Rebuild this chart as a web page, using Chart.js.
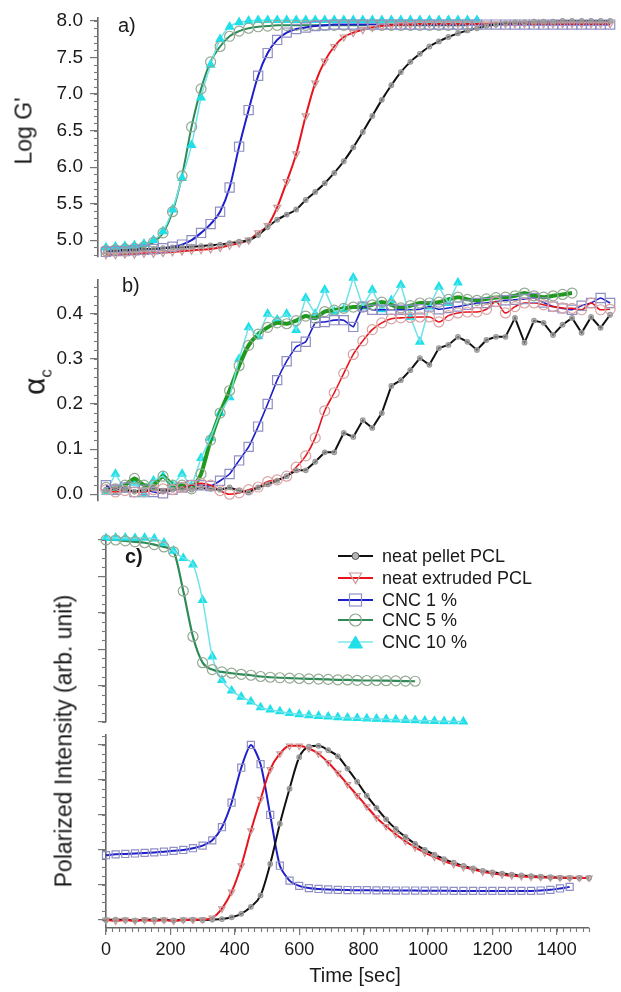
<!DOCTYPE html>
<html><head><meta charset="utf-8">
<script src="https://cdn.jsdelivr.net/npm/chart.js@4.4.1/dist/chart.umd.min.js"></script>
<style>
html,body{margin:0;padding:0;background:#fff;}
#wrap{position:relative;width:621px;height:992px;overflow:hidden;font-family:Arial,"Liberation Sans",sans-serif;color:#1a1a1a;}
canvas{position:absolute;left:0;top:0;}
.t{position:absolute;white-space:nowrap;line-height:1;}
.rot{transform:translate(-50%,-50%) rotate(-90deg);}
.lg{position:absolute;left:336px;}
.lt{position:absolute;left:382px;font-size:18px;line-height:1;white-space:nowrap;}
</style></head><body>
<div id="wrap">
<canvas id="cA" width="621" height="992"></canvas>
<canvas id="cB" width="621" height="992"></canvas>
<canvas id="cC1" width="621" height="992"></canvas>
<canvas id="cC2" width="621" height="992"></canvas>

<div class="t rot" style="left:24px;top:131px;font-size:23px;">Log G'</div>
<div class="t rot" style="left:37px;top:382px;font-size:30px;">α<sub style="font-size:17px;">c</sub></div>
<div class="t rot" style="left:64px;top:741px;font-size:23px;">Polarized Intensity (arb. unit)</div>
<div class="t" style="left:355px;top:975px;font-size:20px;transform:translate(-50%,-50%);">Time [sec]</div>
<div class="t" style="left:118px;top:15px;font-size:20px;">a)</div>
<div class="t" style="left:122px;top:275px;font-size:20px;">b)</div>
<div class="t" style="left:125px;top:546px;font-size:20px;font-weight:bold;">c)</div>

<svg class="lg" style="top:546px" width="44" height="20"><line x1="2" y1="10" x2="37" y2="10" stroke="#111" stroke-width="2"/><circle cx="19.5" cy="10" r="3.5" fill="#b5b5b5" stroke="#555" stroke-width="1"/></svg>
<div class="lt" style="top:547px">neat pellet PCL</div>
<svg class="lg" style="top:568px" width="44" height="20"><line x1="2" y1="10" x2="37" y2="10" stroke="#e8141c" stroke-width="2"/><polygon points="13.5,5 25.5,5 19.5,15.5" fill="none" stroke="#c79a9a" stroke-width="1.2"/></svg>
<div class="lt" style="top:569px">neat extruded PCL</div>
<svg class="lg" style="top:590px" width="44" height="20"><line x1="2" y1="10" x2="37" y2="10" stroke="#1e1ecc" stroke-width="2"/><rect x="13.5" y="4" width="12" height="12" fill="none" stroke="#8f8fc4" stroke-width="1.2"/></svg>
<div class="lt" style="top:591px">CNC 1 %</div>
<svg class="lg" style="top:610px" width="44" height="20"><line x1="2" y1="10" x2="37" y2="10" stroke="#2e8b57" stroke-width="2"/><circle cx="19.5" cy="10" r="6" fill="none" stroke="#93a893" stroke-width="1.2"/></svg>
<div class="lt" style="top:611px">CNC 5 %</div>
<svg class="lg" style="top:632px" width="44" height="20"><line x1="2" y1="10" x2="37" y2="10" stroke="#9beef0" stroke-width="2"/><polygon points="12.5,16 26.5,16 19.5,4" fill="#1fe0e8" stroke="#1fe0e8" stroke-width="1"/></svg>
<div class="lt" style="top:633px">CNC 10 %</div>
</div>

<script>
// ---------- DATA ----------
// time grid (s) for panels a) and b)
const timeAB = [0,30,60,90,120,150,180,210,240,270,300,330,360,390,420,450,480,510,540,570,600,630,660,690,720,750,780,810,840,870,900,930,960,990,1020,1050,1080,1110,1140,1170,1200,1230,1260,1290,1320,1350,1380,1410,1440,1470,1500,1530,1560,1590];
// time grid (s) for panel c)
const timeC = [0,30,60,90,120,150,180,210,240,270,300,330,360,390,420,450,480,510,540,570,600,630,660,690,720,750,780,810,840,870,900,930,960,990,1020,1050,1080,1110,1140,1170,1200,1230,1260,1290,1320,1350,1380,1410,1440,1470,1500];

// a) Log G'
const logG_pellet = [4.85,4.86,4.87,4.87,4.88,4.88,4.89,4.90,4.90,4.91,4.92,4.93,4.94,4.96,4.98,5.00,5.07,5.18,5.28,5.35,5.42,5.55,5.66,5.78,5.92,6.08,6.27,6.48,6.70,6.92,7.12,7.30,7.44,7.55,7.65,7.72,7.78,7.83,7.87,7.90,7.93,7.95,7.97,7.98,7.98,7.99,7.99,7.99,8.00,8.00,8.00,8.00,8.00,8.00];
const logG_extruded = [4.80,4.80,4.81,4.81,4.82,4.82,4.83,4.84,4.85,4.86,4.87,4.88,4.90,4.93,4.96,5.00,5.10,5.20,5.45,5.80,6.18,6.70,7.15,7.45,7.65,7.78,7.84,7.88,7.91,7.93,7.94,7.95,7.95,7.96,7.96,7.96,7.96,7.96,7.96,7.96,7.96,7.96,7.96,7.96,7.96,7.96,7.96,7.96,7.96,7.96,7.96,7.96,7.96,7.96];
const logG_cnc1 = [4.84,4.85,4.85,4.86,4.87,4.88,4.89,4.91,4.94,5.00,5.10,5.22,5.39,5.72,6.28,6.78,7.25,7.56,7.74,7.84,7.89,7.91,7.93,7.94,7.95,7.95,7.95,7.95,7.95,7.95,7.95,7.95,7.95,7.95,7.95,7.95,7.95,7.95,7.95,7.95,7.95,7.95,7.95,7.95,7.95,7.95,7.95,7.95,7.95,7.95,7.95,7.95,7.95,7.95];
const logG_cnc5 = [4.86,4.87,4.88,4.89,4.91,4.97,5.10,5.39,5.88,6.55,7.07,7.44,7.65,7.79,7.86,7.90,7.92,7.93,7.94,7.94,7.94,7.94,7.94,7.94,7.94,7.94,7.94,7.94,7.94,7.94,7.94,7.94,7.94,7.94,7.94,7.94,7.94,7.94,7.94,null,null,null,null,null,null,null,null,null,null,null,null,null,null,null];
const logG_cnc10 = [4.90,4.91,4.92,4.93,4.95,5.00,5.12,5.42,5.85,6.30,6.95,7.40,7.75,7.92,7.98,8.00,8.01,8.01,8.01,8.01,8.01,8.01,8.01,8.01,8.01,8.01,8.01,8.01,8.01,8.01,8.01,8.01,8.01,8.01,8.01,8.01,8.01,8.01,8.01,8.01,null,null,null,null,null,null,null,null,null,null,null,null,null,null];

// b) alpha_c
const alpha_pellet = [0.010,0.015,0.010,0.006,0.010,0.012,0.008,0.010,0.012,0.010,0.015,0.012,0.010,0.015,0.008,0.004,0.015,0.022,0.030,0.040,0.053,0.053,0.072,0.093,0.093,0.136,0.127,0.164,0.147,0.180,0.240,0.253,0.275,0.302,0.287,0.324,0.331,0.349,0.338,0.320,0.342,0.349,0.349,0.391,0.336,0.385,0.380,0.353,0.376,0.391,0.358,0.393,0.369,0.398];
const alpha_extruded = [0.010,0.005,0.008,0.005,0.005,0.010,0.012,0.010,0.015,0.020,0.024,0.020,0.008,0.000,0.003,0.010,0.016,0.028,0.032,0.040,0.060,0.085,0.125,0.185,0.225,0.268,0.310,0.340,0.365,0.380,0.389,0.391,0.392,0.393,0.393,0.382,0.396,0.402,0.404,0.404,0.410,0.427,0.402,0.416,0.424,0.424,0.420,0.416,0.413,0.412,0.409,0.424,0.409,0.410];
const alpha_cnc1 = [0.020,0.010,0.015,0.005,0.010,0.005,0.002,0.010,0.015,0.020,0.020,0.018,0.030,0.045,0.075,0.105,0.150,0.200,0.253,0.295,0.327,0.338,0.380,0.382,0.386,0.386,0.371,0.416,0.409,0.409,0.409,0.409,0.409,0.410,0.416,0.410,0.413,0.416,0.420,0.424,0.424,0.427,0.430,0.431,0.433,0.435,0.425,0.416,0.412,0.409,0.418,0.424,0.435,0.424];
const alpha_cnc5 = [0.015,0.012,0.020,0.035,0.020,0.020,0.040,0.020,0.020,0.012,0.045,0.120,0.180,0.230,0.285,0.330,0.355,0.370,0.380,0.378,0.385,0.395,0.390,0.405,0.408,0.412,0.415,0.415,0.420,0.426,0.420,0.413,0.418,0.424,0.424,0.426,0.432,0.437,0.432,0.430,0.433,0.436,0.437,0.440,0.446,0.440,0.437,0.440,0.443,0.446,null,null,null,null];
const alpha_cnc10 = [0.005,0.045,0.010,0.025,0.000,0.030,0.040,0.020,0.045,0.018,0.080,0.125,0.180,0.215,0.300,0.370,0.350,0.400,0.387,0.400,0.364,0.435,0.400,0.453,0.405,0.410,0.480,0.416,0.453,0.410,0.430,0.464,0.393,0.338,0.416,0.460,0.424,0.469,null,null,null,null,null,null,null,null,null,null,null,null,null,null,null,null];

// c) polarized intensity (arb. unit), upper group
const pol_cnc5 = [1.000,1.000,0.995,0.990,0.985,0.975,0.962,0.935,0.720,0.470,0.326,0.288,0.275,0.268,0.262,0.257,0.250,0.246,0.243,0.241,0.239,0.237,0.236,0.234,0.232,0.231,0.229,0.228,0.228,0.227,0.226,0.225,0.224,null,null,null,null,null,null,null,null,null,null,null,null,null,null,null,null,null,null];
const pol_cnc10 = [1.010,1.012,1.012,1.010,1.012,1.008,0.985,0.940,0.900,0.865,0.670,0.360,0.230,0.172,0.138,0.112,0.080,0.068,0.058,0.049,0.042,0.037,0.033,0.029,0.026,0.023,0.021,0.019,0.017,0.015,0.013,0.011,0.009,0.007,0.005,0.004,0.003,0.002,null,null,null,null,null,null,null,null,null,null,null,null,null];
// c) lower group
const pol_pellet = [0.000,0.002,0.000,-0.002,0.000,0.002,0.000,-0.002,0.000,0.002,0.000,0.002,0.005,0.015,0.035,0.075,0.140,0.320,0.550,0.750,0.930,0.990,0.995,0.970,0.935,0.865,0.790,0.710,0.640,0.575,0.520,0.475,0.435,0.400,0.373,0.348,0.327,0.309,0.294,0.281,0.272,0.265,0.259,0.254,0.250,0.247,0.244,0.242,0.241,0.240,0.240];
const pol_extruded = [0.000,-0.005,0.000,-0.005,0.000,-0.005,0.000,-0.005,0.000,0.000,0.002,0.012,0.065,0.160,0.310,0.510,0.690,0.860,0.950,0.995,0.995,0.980,0.950,0.900,0.840,0.775,0.712,0.648,0.585,0.535,0.490,0.450,0.415,0.385,0.360,0.337,0.318,0.302,0.288,0.275,0.266,0.259,0.253,0.249,0.246,0.244,0.242,0.241,0.240,0.240,0.240];
const pol_cnc1 = [0.370,0.375,0.377,0.380,0.383,0.386,0.390,0.395,0.400,0.410,0.425,0.455,0.530,0.670,0.870,1.000,0.890,0.600,0.310,0.225,0.195,0.182,0.177,0.174,0.172,0.171,0.170,0.170,0.169,0.169,0.168,0.168,0.168,0.167,0.167,0.167,0.166,0.166,0.166,0.166,0.166,0.166,0.166,0.166,0.166,0.168,0.172,0.180,0.189,null,null];

// tick labels
const ticksLogG = [5.0,5.5,6.0,6.5,7.0,7.5,8.0];
const ticksAlpha = [0.0,0.1,0.2,0.3,0.4];
const ticksTime = [0,200,400,600,800,1000,1200,1400];
const ticksPolUpper = [0,0.2,0.4,0.6,0.8,1.0];
const ticksPolLower = [0,0.2,0.4,0.6,0.8,1.0];

// ---------- RENDER ----------
const FONT = 'Arial, "Liberation Sans", sans-serif';
Chart.defaults.font.family = FONT;
Chart.defaults.color = '#1a1a1a';

function steps(a, b, s) { const out = []; for (let v = a; v <= b + 1e-9; v += s) out.push(+v.toFixed(4)); return out; }

Chart.register({
  id: 'minorTicks',
  afterDraw(chart, args, o) {
    if (!o || !o.len) return;
    const ctx = chart.ctx, ys = chart.scales.y, xs = chart.scales.x;
    ctx.save(); ctx.strokeStyle = '#777'; ctx.lineWidth = 1.1;
    (o.y || []).forEach(v => { const p = Math.round(ys.getPixelForValue(v)) + 0.5; ctx.beginPath(); ctx.moveTo(ys.right - o.len, p); ctx.lineTo(ys.right, p); ctx.stroke(); });
    (o.x || []).forEach(v => { const p = Math.round(xs.getPixelForValue(v)) + 0.5; ctx.beginPath(); ctx.moveTo(p, xs.top); ctx.lineTo(p, xs.top + o.len); ctx.stroke(); });
    ctx.restore();
  }
});

function yAxis(min, max, major, fmt, width) {
  return { type: 'linear', position: 'left', min, max,
    afterBuildTicks: s => { s.ticks = major.map(v => ({ value: v })); },
    afterFit: s => { s.width = width; s.paddingTop = 0; s.paddingBottom = 0; },
    ticks: { callback: fmt, font: { size: 19, family: FONT }, color: '#1a1a1a', padding: 7, autoSkip: false },
    grid: { drawOnChartArea: false, drawTicks: true, tickLength: 8, color: '#777', lineWidth: 1.2 },
    border: { display: true, color: '#666', width: 1.6 } };
}
function hiddenX(min, max) { return { type: 'linear', min, max, display: false }; }

function pts(xs, ys) { return xs.map((x, i) => ({ x, y: ys[i] })); }
function marks(xs, ys, style) {
  return Object.assign({ data: pts(xs, ys), showLine: false, clip: false, pointBorderWidth: 1.2, pointHoverRadius: 0, pointBackgroundColor: 'rgba(0,0,0,0)' }, style);
}
function curve(xs, ys, color, width, smooth) {
  return Object.assign({ data: pts(xs, ys), borderColor: color, borderWidth: width, pointRadius: 0, pointHoverRadius: 0, clip: false, fill: false, spanGaps: false },
    smooth === 'mono' ? { cubicInterpolationMode: 'monotone' } : { tension: smooth || 0 });
}
function make(id, datasets, scales, padding, minor) {
  return new Chart(document.getElementById(id), {
    type: 'line', data: { datasets },
    options: { responsive: false, animation: false, devicePixelRatio: 1, events: [],
      layout: { padding }, scales,
      plugins: { legend: { display: false }, tooltip: { enabled: false }, minorTicks: minor } }
  });
}

const C = { black: '#111111', red: '#e8141c', blue: '#1e1ecc', green: '#2e8b57', bgreen: '#1f9a1f', cyan: '#6fe3ea' };
const M = {
  pellet: { pointStyle: 'circle', pointRadius: 2.3, pointBorderColor: '#9a9a9a', pointBackgroundColor: 'rgba(170,170,170,0.6)' },
  extruded: { pointStyle: 'triangle', pointRotation: 180, pointRadius: 4, pointBorderColor: '#c79a9a' },
  extrudedB: { pointStyle: 'circle', pointRadius: 5, pointBorderColor: '#d9a3a3' },
  cnc1: { pointStyle: 'rect', pointRadius: 6.5, pointBorderColor: '#8f8fc4' },
  cnc1c: { pointStyle: 'rect', pointRadius: 5, pointBorderColor: '#8f8fc4' },
  cnc5: { pointStyle: 'circle', pointRadius: 5, pointBorderColor: '#93a893' },
  cnc10: { pointStyle: 'triangle', pointRadius: 4.6, pointBorderColor: '#1fe0e8', pointBackgroundColor: '#1fe0e8' }
};

// panel a
make('cA', [
  marks(timeAB, logG_pellet, M.pellet),
  marks(timeAB, logG_extruded, M.extruded),
  marks(timeAB, logG_cnc1, M.cnc1),
  marks(timeAB, logG_cnc5, M.cnc5),
  marks(timeAB, logG_cnc10, M.cnc10),
  curve(timeAB, logG_cnc10, C.cyan, 1.5, 'mono'),
  curve(timeAB, logG_pellet, C.black, 2, 'mono'),
  curve(timeAB, logG_extruded, C.red, 2, 'mono'),
  curve(timeAB, logG_cnc1, C.blue, 2, 'mono'),
  curve(timeAB, logG_cnc5, C.green, 2, 'mono')
], { x: hiddenX(-25, 1600), y: yAxis(4.77, 8.04, ticksLogG, v => v.toFixed(1), 98) },
  { left: 0, right: 0, top: 18, bottom: 735 }, { len: 4, y: steps(4.8, 8.0, 0.1) });

// panel b
make('cB', [
  marks(timeAB, alpha_pellet, M.pellet),
  marks(timeAB, alpha_extruded, M.extrudedB),
  marks(timeAB, alpha_cnc1, M.cnc1),
  marks(timeAB, alpha_cnc5, M.cnc5),
  curve(timeAB, alpha_pellet, C.black, 2, 0),
  curve(timeAB, alpha_extruded, C.red, 1.6, 'mono'),
  curve(timeAB, alpha_cnc1, C.blue, 1.6, 0.1),
  curve(timeAB, alpha_cnc10, C.cyan, 1.5, 0),
  curve(timeAB, alpha_cnc5, C.bgreen, 4, 0.2),
  marks(timeAB, alpha_cnc10, M.cnc10)
], { x: hiddenX(-25, 1600), y: yAxis(-0.015, 0.475, ticksAlpha, v => v.toFixed(1), 98) },
  { left: 0, right: 0, top: 280, bottom: 491 }, { len: 4, y: steps(0, 0.46, 0.02) });

// panel c upper
make('cC1', [
  marks(timeC, pol_cnc5, M.cnc5),
  curve(timeC, pol_cnc10, C.cyan, 1.5, 'mono'),
  marks(timeC, pol_cnc10, M.cnc10),
  curve(timeC, pol_cnc5, C.green, 2.2, 'mono')
], { x: hiddenX(0, 1500), y: yAxis(0, 1.011, ticksPolUpper, () => '', 106) },
  { left: 0, right: 32, top: 538, bottom: 270 }, { len: 4, y: steps(0, 1.0, 0.05) });

// panel c lower (with time axis)
make('cC2', [
  marks(timeC, pol_pellet, M.pellet),
  marks(timeC, pol_extruded, Object.assign({}, M.extruded, { pointRadius: 3.6 })),
  marks(timeC, pol_cnc1, M.cnc1c),
  curve(timeC, pol_extruded, C.red, 2, 'mono'),
  curve(timeC, pol_pellet, C.black, 2, 'mono'),
  curve(timeC, pol_cnc1, C.blue, 2, 0.25)
], {
  x: { type: 'linear', position: 'bottom', min: 0, max: 1500,
    afterBuildTicks: s => { s.ticks = ticksTime.map(v => ({ value: v })); },
    afterFit: s => { s.height = 40; s.paddingLeft = 0; s.paddingRight = 0; },
    ticks: { callback: v => String(v), font: { size: 18, family: FONT }, color: '#1a1a1a', padding: 4, maxRotation: 0, autoSkip: false },
    grid: { drawOnChartArea: false, drawTicks: true, tickLength: 7, color: '#777', lineWidth: 1.2 },
    border: { display: true, color: '#666', width: 1.6 } },
  y: yAxis(-0.046, 1.057, ticksPolLower, () => '', 106)
}, { left: 0, right: 32, top: 735, bottom: 24 }, { len: 4, y: steps(0, 1.05, 0.05), x: steps(0, 1500, 20) });
</script>
</body></html>
